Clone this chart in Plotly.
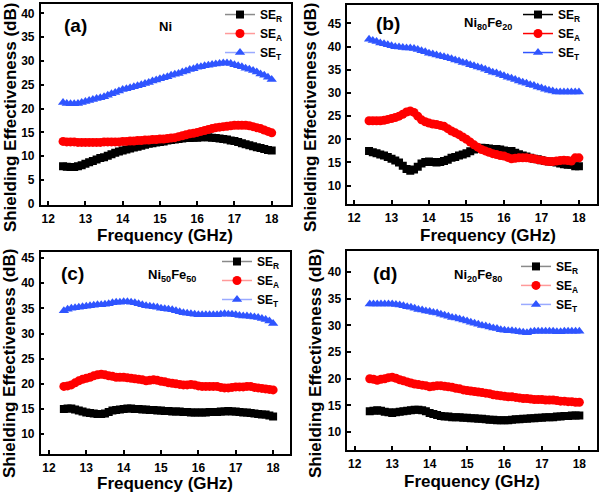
import plotly.graph_objects as go

W, H = 600, 498

freq = [12.4, 12.5, 12.6, 12.7, 12.8, 12.9, 13.0, 13.1, 13.2, 13.3, 13.4, 13.5, 13.6, 13.7, 13.8, 13.9,
        14.0, 14.1, 14.2, 14.3, 14.4, 14.5, 14.6, 14.7, 14.8, 14.9, 15.0, 15.1, 15.2, 15.3, 15.4, 15.5,
        15.6, 15.7, 15.8, 15.9, 16.0, 16.1, 16.2, 16.3, 16.4, 16.5, 16.6, 16.7, 16.8, 16.9, 17.0, 17.1,
        17.2, 17.3, 17.4, 17.5, 17.6, 17.7, 17.8, 17.9, 18.0]

# (a) Ni
a_ser = [7.9, 7.8, 7.75, 7.75, 7.9, 8.1, 8.4, 8.7, 9.0, 9.3, 9.6, 9.8, 10.1, 10.4, 10.7, 11.0,
         11.2, 11.4, 11.6, 11.8, 12.0, 12.2, 12.4, 12.6, 12.7, 12.9, 13.0, 13.1, 13.3, 13.4, 13.5, 13.6,
         13.7, 13.8, 13.8, 13.9, 13.9, 14.0, 14.0, 14.0, 13.9, 13.8, 13.7, 13.6, 13.5, 13.3, 13.2, 13.0,
         12.7, 12.5, 12.3, 12.1, 11.9, 11.7, 11.5, 11.3, 11.2]
a_sea = [13.1, 13.0, 13.0, 13.0, 12.9, 12.9, 12.9, 12.9, 12.9, 12.9, 12.9, 13.0, 13.0, 13.0, 13.0, 13.0,
         13.1, 13.1, 13.2, 13.2, 13.3, 13.3, 13.4, 13.4, 13.5, 13.5, 13.6, 13.6, 13.7, 13.8, 13.9, 14.1,
         14.3, 14.5, 14.7, 14.8, 15.0, 15.2, 15.4, 15.6, 15.8, 16.0, 16.1, 16.2, 16.3, 16.4, 16.5, 16.5,
         16.5, 16.5, 16.4, 16.2, 16.0, 15.8, 15.5, 15.2, 14.9]
a_set = [21.3, 21.1, 21.0, 21.0, 21.1, 21.3, 21.5, 21.7, 21.9, 22.1, 22.3, 22.5, 22.8, 23.1, 23.4, 23.7,
         24.0, 24.2, 24.4, 24.6, 24.8, 25.0, 25.3, 25.5, 25.8, 26.0, 26.3, 26.5, 26.7, 27.0, 27.2, 27.4,
         27.7, 27.9, 28.2, 28.4, 28.7, 28.8, 29.0, 29.1, 29.3, 29.4, 29.5, 29.6, 29.6, 29.5, 29.2, 29.0,
         28.8, 28.5, 28.3, 28.0, 27.7, 27.3, 27.0, 26.6, 26.1]

# (b) Ni80Fe20
b_ser = [17.5, 17.2, 17.0, 16.7, 16.5, 16.2, 15.8, 15.4, 15.0, 14.3, 13.6, 13.2, 13.5, 14.1, 14.8, 15.1,
         15.2, 15.1, 15.0, 15.1, 15.3, 15.6, 16.0, 16.2, 16.5, 16.7, 17.0, 17.4, 17.8, 18.0, 18.2, 18.1,
         18.0, 17.9, 17.9, 17.8, 17.6, 17.5, 17.5, 17.1, 16.8, 16.5, 16.3, 16.0, 15.8, 15.7, 15.5, 15.3,
         15.2, 15.1, 15.0, 14.8, 14.6, 14.5, 14.5, 14.2, 14.2]
b_sea = [24.0, 24.0, 24.0, 24.0, 24.1, 24.3, 24.5, 24.7, 25.0, 25.4, 25.9, 26.1, 25.8, 25.0, 24.2, 23.8,
         23.5, 23.3, 23.2, 23.0, 22.8, 22.3, 21.8, 21.4, 21.0, 20.5, 20.0, 19.4, 18.8, 18.3, 17.8, 17.5,
         17.2, 16.9, 16.7, 16.5, 16.4, 16.1, 15.8, 15.9, 16.0, 16.0, 16.0, 15.9, 15.8, 15.6, 15.5, 15.3,
         15.2, 15.2, 15.3, 15.4, 15.5, 15.4, 15.3, 16.0, 16.0]
b_set = [41.6, 41.3, 41.1, 40.8, 40.6, 40.4, 40.2, 40.0, 39.9, 39.8, 39.7, 39.7, 39.6, 39.4, 39.1, 38.9,
         38.6, 38.4, 38.2, 38.0, 37.8, 37.6, 37.4, 37.1, 36.9, 36.6, 36.4, 36.1, 35.9, 35.6, 35.4, 35.1,
         34.8, 34.5, 34.3, 34.0, 33.7, 33.4, 33.2, 32.9, 32.6, 32.3, 32.1, 31.8, 31.6, 31.3, 31.1, 30.8,
         30.6, 30.4, 30.2, 30.2, 30.2, 30.2, 30.2, 30.2, 30.2]

# (c) Ni50Fe50
c_ser = [15.0, 15.1, 15.1, 14.9, 14.7, 14.5, 14.3, 14.2, 14.1, 14.0, 14.0, 14.1, 14.4, 14.7, 14.8, 14.9,
         15.0, 15.1, 15.1, 15.0, 15.0, 14.9, 14.9, 14.8, 14.8, 14.7, 14.7, 14.6, 14.6, 14.5, 14.5, 14.5,
         14.4, 14.4, 14.3, 14.3, 14.3, 14.3, 14.3, 14.4, 14.4, 14.4, 14.5, 14.5, 14.6, 14.5, 14.5, 14.4,
         14.3, 14.3, 14.2, 14.1, 14.0, 13.9, 13.9, 13.7, 13.5]
c_sea = [19.5, 19.6, 19.8, 20.2, 20.6, 20.9, 21.1, 21.3, 21.6, 21.8, 21.9, 21.8, 21.6, 21.5, 21.3, 21.3,
         21.3, 21.2, 21.1, 21.0, 20.9, 20.8, 20.6, 20.7, 20.8, 20.7, 20.5, 20.4, 20.2, 20.1, 20.0, 19.9,
         19.8, 19.8, 19.9, 19.8, 19.6, 19.5, 19.5, 19.5, 19.5, 19.5, 19.3, 19.2, 19.2, 19.3, 19.4, 19.4,
         19.4, 19.5, 19.5, 19.3, 19.2, 19.1, 19.0, 18.9, 18.8]
c_set = [34.5, 34.8, 35.0, 35.1, 35.2, 35.3, 35.4, 35.5, 35.6, 35.7, 35.7, 35.8, 35.9, 36.1, 36.2, 36.2,
         36.3, 36.3, 36.2, 36.1, 35.9, 35.7, 35.5, 35.4, 35.3, 35.2, 35.0, 34.9, 34.8, 34.7, 34.5, 34.3,
         34.1, 34.0, 33.9, 33.8, 33.7, 33.7, 33.7, 33.7, 33.7, 33.7, 33.8, 33.9, 33.8, 33.8, 33.7, 33.6,
         33.5, 33.5, 33.4, 33.3, 33.2, 33.0, 32.8, 32.5, 32.0]

# (d) Ni20Fe80
d_ser = [13.9, 14.0, 14.1, 14.0, 13.8, 13.7, 13.6, 13.7, 13.8, 13.9, 14.0, 14.1, 14.2, 14.2, 14.1, 13.9,
         13.6, 13.4, 13.2, 13.0, 12.9, 12.9, 12.8, 12.8, 12.8, 12.7, 12.7, 12.6, 12.6, 12.5, 12.5, 12.4,
         12.3, 12.3, 12.2, 12.2, 12.2, 12.2, 12.3, 12.4, 12.4, 12.5, 12.5, 12.6, 12.6, 12.7, 12.7, 12.8,
         12.8, 12.8, 12.9, 12.9, 13.0, 13.0, 13.1, 13.1, 13.1]
d_sea = [20.0, 19.9, 19.7, 19.9, 20.0, 20.2, 20.3, 20.1, 19.8, 19.6, 19.4, 19.2, 19.0, 18.9, 18.8, 18.7,
         18.5, 18.6, 18.7, 18.7, 18.6, 18.5, 18.4, 18.2, 18.1, 17.9, 17.8, 17.7, 17.6, 17.5, 17.4, 17.3,
         17.2, 17.0, 16.9, 16.8, 16.7, 16.6, 16.6, 16.5, 16.4, 16.3, 16.3, 16.2, 16.1, 16.1, 16.1, 16.0,
         16.0, 16.0, 15.9, 15.8, 15.8, 15.7, 15.7, 15.6, 15.6]
d_set = [34.0, 34.0, 34.0, 34.0, 34.0, 34.0, 34.0, 33.9, 33.8, 33.7, 33.5, 33.4, 33.2, 33.0, 32.9, 32.7,
         32.6, 32.4, 32.3, 32.1, 31.9, 31.7, 31.5, 31.4, 31.2, 31.0, 30.8, 30.6, 30.4, 30.2, 30.0, 29.9,
         29.7, 29.5, 29.4, 29.2, 29.1, 29.0, 29.0, 28.9, 28.8, 28.7, 28.6, 28.8, 28.9, 28.9, 28.9, 28.9,
         28.9, 28.9, 28.8, 28.8, 28.9, 28.9, 28.9, 28.9, 28.9]

series_names = ["SE<sub>R</sub>", "SE<sub>A</sub>", "SE<sub>T</sub>"]
panel_labels = ["(a)", "(b)", "(c)", "(d)"]
sample_labels = ["Ni", "Ni<sub>80</sub>Fe<sub>20</sub>", "Ni<sub>50</sub>Fe<sub>50</sub>",
                 "Ni<sub>20</sub>Fe<sub>80</sub>"]
x_ticks = [12, 13, 14, 15, 16, 17, 18]
y_ticks = [[0, 5, 10, 15, 20, 25, 30, 35, 40],
           [10, 15, 20, 25, 30, 35, 40, 45],
           [10, 15, 20, 25, 30, 35, 40, 45],
           [10, 15, 20, 25, 30, 35, 40]]
data = [(a_ser, a_sea, a_set), (b_ser, b_sea, b_set), (c_ser, c_sea, c_set), (d_ser, d_sea, d_set)]

FONT = "Liberation Sans, Arial, sans-serif"

# pixel geometry per panel: (left, right, top, bottom), axis ranges
boxes = [(40.7, 290.7, 2, 206), (347.3, 597.3, 3, 205), (40.7, 290.3, 254, 459), (347.3, 597.3, 253.3, 455)]
xranges = [[11.8, 18.51], [11.82, 18.49], [11.78, 18.46], [11.8, 18.48]]
yranges = [[-0.2, 42.0], [6.1, 49.0], [6.15, 46.2], [6.7, 43.9]]

marker_colors = ["#000000", "#ff0000", "#2f55ff"]
pale_lines = ["#8a8a8a", "#ff9a9a", "#9aaaff"]
symbols = ["square", "circle", "triangle-up"]
msizes = [8, 9, 9]

fig = go.Figure()
for p in range(4):
    ax = "" if p == 0 else str(p + 1)
    leg = "legend" if p == 0 else "legend" + str(p + 1)
    for s in range(3):
        lc = marker_colors[s] if p == 1 else pale_lines[s]
        fig.add_trace(go.Scatter(
            x=freq, y=data[p][s], mode="lines+markers", name=series_names[s],
            xaxis="x" + ax, yaxis="y" + ax, legend=leg,
            line=dict(color=lc, width=1.5),
            marker=dict(symbol=symbols[s], size=msizes[s], color=marker_colors[s], line=dict(width=0)),
        ))

def px(x):
    return x / W

def py(y):
    return 1 - y / H

layout = dict(width=W, height=H, margin=dict(l=0, r=0, t=0, b=0),
              paper_bgcolor="white", plot_bgcolor="white", showlegend=True,
              font=dict(family=FONT, color="black"))

axis_common = dict(showline=True, linecolor="black", linewidth=1.5, mirror=True, ticks="inside",
                   ticklen=4, tickwidth=1.5, tickcolor="black", showgrid=False, zeroline=False,
                   tickfont=dict(family=FONT, size=12, color="black", weight="bold"))

legend_pos = [(220, -2), (518, -2), (217, 249), (516, 254)]
for p in range(4):
    ax = "" if p == 0 else str(p + 1)
    l, r, t, b = boxes[p]
    layout["xaxis" + ax] = dict(domain=[px(l), px(r)], range=xranges[p], anchor="y" + ax,
                                tickvals=x_ticks, ticklabelstandoff=2, **axis_common)
    layout["yaxis" + ax] = dict(domain=[py(b), py(t)], range=yranges[p], anchor="x" + ax,
                                tickvals=y_ticks[p], ticklabelstandoff=2, **axis_common)
    lx, ly = legend_pos[p]
    layout["legend" if p == 0 else "legend" + str(p + 1)] = dict(
        x=px(lx), y=py(ly), xanchor="left", yanchor="top", bgcolor="rgba(0,0,0,0)",
        borderwidth=0, tracegroupgap=0, itemwidth=30,
        font=dict(family=FONT, size=12, color="black", weight="bold"))

fig.update_layout(**layout)

ytitle_pos = [(10, 117), (310, 117), (9, 367), (315, 367)]
xtitle_pos = [(165, 237), (488, 237), (165, 489), (472, 487)]
plabel_pos = [(75, 24), (388, 22), (72, 276), (385, 276)]
slabel_pos = [(165, 25), (488, 22), (172, 278), (478, 278)]
for p in range(4):
    fig.add_annotation(text="Shielding Effectiveness (dB)", x=px(ytitle_pos[p][0]), y=py(ytitle_pos[p][1]),
                       xref="paper", yref="paper", showarrow=False, textangle=-90,
                       xanchor="center", yanchor="middle",
                       font=dict(family=FONT, size=17, color="black", weight="bold"))
    fig.add_annotation(text="Frequency (GHz)", x=px(xtitle_pos[p][0]), y=py(xtitle_pos[p][1]),
                       xref="paper", yref="paper", showarrow=False,
                       xanchor="center", yanchor="middle",
                       font=dict(family=FONT, size=17, color="black", weight="bold"))
    fig.add_annotation(text=panel_labels[p], x=px(plabel_pos[p][0]), y=py(plabel_pos[p][1]),
                       xref="paper", yref="paper", showarrow=False,
                       xanchor="center", yanchor="middle",
                       font=dict(family=FONT, size=19, color="black", weight="bold"))
    fig.add_annotation(text=sample_labels[p], x=px(slabel_pos[p][0]), y=py(slabel_pos[p][1]),
                       xref="paper", yref="paper", showarrow=False,
                       xanchor="center", yanchor="middle",
                       font=dict(family=FONT, size=13, color="black", weight="bold"))

fig.write_html("out.html")
